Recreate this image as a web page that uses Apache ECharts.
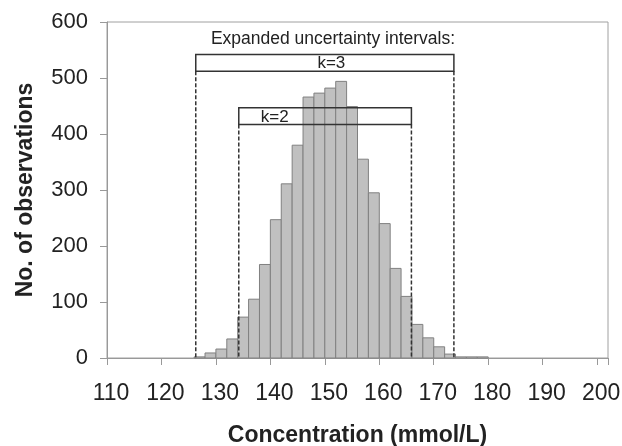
<!DOCTYPE html>
<html>
<head>
<meta charset="utf-8">
<script src="https://cdn.jsdelivr.net/npm/echarts@6/dist/echarts.min.js"></script>
<style>html,body{margin:0;padding:0;background:#fff;}#c{width:622px;height:446px;}</style>
</head>
<body>
<div id="c"></div>
<script>
// Histogram bins (start of each 2 mmol/L bin) and counts
var binStart = [126,128,130,132,134,136,138,140,142,144,146,148,150,152,154,156,158,160,162,164,166,168,170,172,174,176,178];
var counts   = [2,9,16,34,73,105,167,247,311,380,466,473,482,494,449,355,295,240,160,110,60,36,20,7,2,2,2];
var binWidth = 2;

// Expanded uncertainty intervals
var intervalNames = ['k=3','k=2'];
var intervalLow   = [126.3, 134.2];
var intervalHigh  = [173.7, 165.9];
var boxBottom     = [512, 417];
var boxTop        = [542, 447];
var labelX        = [151.2, 140.8];
var labelY        = [526, 429];
var headingText   = 'Expanded uncertainty intervals:';
var headingPos    = [151.5, 570];

var xTicks = [110,120,130,140,150,160,170,180,190,200];
var yTicks = [0,100,200,300,400,500,600];

var FONT = "'Liberation Sans', Arial, sans-serif";

var barData = binStart.map(function(s, i){ return [s, s + binWidth, counts[i]]; });
var intData = intervalNames.map(function(n, i){
  return [intervalLow[i], intervalHigh[i], boxBottom[i], boxTop[i], labelX[i], labelY[i], n];
});

var chart = echarts.init(document.getElementById('c'), null, {renderer:'canvas'});
chart.setOption({
  animation: false,
  backgroundColor: '#fff',
  grid: {left: 107, right: 14, top: 22, bottom: 88, show: true, borderColor: '#a0a0a0', borderWidth: 1,
         containLabel: false, outerBoundsMode: 'none'},
  xAxis: {
    type: 'value', min: 110, max: 202, interval: 10,
    name: 'Concentration (mmol/L)', nameLocation: 'middle', nameGap: 66,
    nameTextStyle: {fontFamily: FONT, fontSize: 23, fontWeight: 'bold', color: '#222'},
    axisLine: {show: true, lineStyle: {color: '#999', width: 1}},
    axisTick: {show: true, length: 7, lineStyle: {color: '#999'}},
    splitLine: {show: false},
    axisLabel: {
      fontFamily: FONT, fontSize: 23, color: '#222', margin: 24, padding: [0,0,0,8],
      formatter: function(v){ return xTicks.indexOf(v) >= 0 ? String(v) : ''; }
    }
  },
  yAxis: {
    type: 'value', min: 0, max: 600, interval: 100,
    name: 'No. of observations', nameLocation: 'middle', nameGap: 70,
    nameTextStyle: {fontFamily: FONT, fontSize: 23, fontWeight: 'bold', color: '#222'},
    axisLine: {show: true, lineStyle: {color: '#999', width: 1}},
    axisTick: {show: true, length: 7, lineStyle: {color: '#999'}},
    splitLine: {show: false},
    axisLabel: {
      fontFamily: FONT, fontSize: 22, color: '#222', margin: 19,
      formatter: function(v){ return yTicks.indexOf(v) >= 0 ? String(v) : ''; }
    }
  },
  series: [
    {
      type: 'custom',
      data: barData,
      encode: {x: [0,1], y: 2},
      renderItem: function(params, api){
        var p0 = api.coord([api.value(0), api.value(2)]);
        var p1 = api.coord([api.value(1), 0]);
        return {
          type: 'rect',
          shape: {x: p0[0], y: p0[1], width: p1[0]-p0[0], height: p1[1]-p0[1]},
          style: {fill: '#c0c0c0', stroke: '#808080', lineWidth: 1}
        };
      },
      z: 2
    },
    {
      type: 'custom',
      data: intData,
      encode: {x: [0,1], y: [2,3]},
      renderItem: function(params, api){
        var lo = api.value(0), hi = api.value(1), b = api.value(2), t = api.value(3);
        var tl = api.coord([lo, t]), br = api.coord([hi, b]);
        var baseL = api.coord([lo, 0]), baseR = api.coord([hi, 0]);
        var lp = api.coord([api.value(4), api.value(5)]);
        var children = [
          {type:'rect', shape:{x: tl[0], y: tl[1], width: br[0]-tl[0], height: br[1]-tl[1]},
           style:{fill: 'none', stroke: '#333', lineWidth: 1.5}},
          {type:'line', shape:{x1: tl[0], y1: br[1], x2: baseL[0], y2: baseL[1]},
           style:{stroke:'#333', lineWidth: 1.5, lineDash:[4,2]}},
          {type:'line', shape:{x1: br[0], y1: br[1], x2: baseR[0], y2: baseR[1]},
           style:{stroke:'#333', lineWidth: 1.5, lineDash:[4,2]}},
          {type:'text', x: lp[0], y: lp[1],
           style:{text: api.value(6), fill:'#222', font: '17px ' + FONT, align:'center', verticalAlign:'middle'}}
        ];
        if (params.dataIndex === 0) {
          var hp = api.coord(headingPos);
          children.push({type:'text', x: hp[0], y: hp[1],
            style:{text: headingText, fill:'#222', font: '17.5px ' + FONT, align:'center', verticalAlign:'middle'}});
        }
        return {type:'group', children: children};
      },
      z: 3
    }
  ]
});
</script>
</body>
</html>
